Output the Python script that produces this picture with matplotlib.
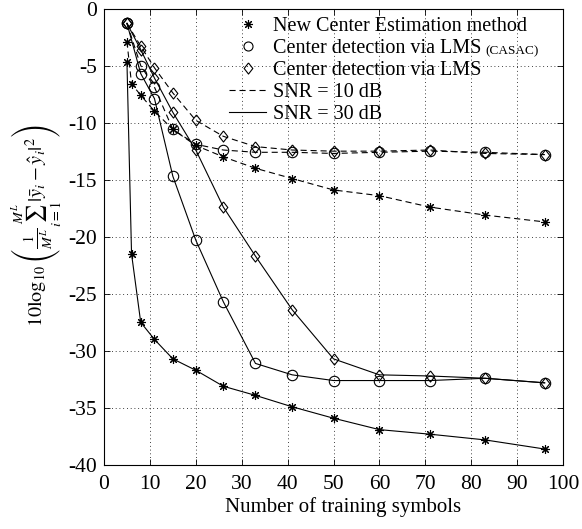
import matplotlib
matplotlib.use("Agg")
import matplotlib.pyplot as plt
from matplotlib.lines import Line2D

plt.rcParams['font.family'] = 'serif'
plt.rcParams['font.serif'] = ['Liberation Serif', 'DejaVu Serif']
plt.rcParams['mathtext.fontset'] = 'stix'

# ---- data ----
x_new = [5, 6, 8, 11, 15, 20, 26, 33, 41, 50, 60, 71, 83, 96]
x_lms = [5, 8, 11, 15, 20, 26, 33, 41, 50, 60, 71, 83, 96]

new_10 = [-2.9, -6.6, -7.6, -9.0, -10.6, -12.0, -13.0, -14.0, -14.9, -15.9, -16.4, -17.4, -18.1, -18.7]
new_30 = [-4.7, -21.5, -27.5, -29.0, -30.7, -31.7, -33.1, -33.9, -34.9, -35.9, -36.9, -37.3, -37.8, -38.6]

casac_10 = [-1.3, -5.0, -6.9, -10.6, -11.9, -12.4, -12.6, -12.6, -12.7, -12.6, -12.5, -12.6, -12.8]
casac_30 = [-1.3, -5.7, -7.9, -14.7, -20.3, -25.7, -31.1, -32.1, -32.6, -32.6, -32.6, -32.4, -32.8]

lms_10 = [-1.3, -3.3, -5.2, -7.4, -9.8, -11.2, -12.1, -12.4, -12.5, -12.5, -12.4, -12.7, -12.8]
lms_30 = [-1.3, -3.6, -6.1, -9.1, -12.4, -17.4, -21.7, -26.4, -30.7, -32.1, -32.2, -32.4, -32.8]

xticks = [0, 10, 20, 30, 40, 50, 60, 70, 80, 90, 100]
yticks = [0, -5, -10, -15, -20, -25, -30, -35, -40]

legend_labels = ["New Center Estimation method",
                 "Center detection via LMS",
                 "Center detection via LMS",
                 "SNR = 10 dB",
                 "SNR = 30 dB"]

# ---- figure ----
W, H = 582, 529
fig = plt.figure(figsize=(W/100, H/100), dpi=100)
ax_l, ax_r, ax_t, ax_b = 104, 563, 8.5, 465
ax = fig.add_axes([ax_l/W, 1-ax_b/H, (ax_r-ax_l)/W, (ax_b-ax_t)/H])

ast = (8, 2, 0)
diamond = [(0, 1), (0.78, 0), (0, -1), (-0.78, 0), (0, 1)]
lw = 0.8
dash = (0, (5.5, 3.5))
common = dict(color='black', lw=lw, mfc='none', mec='black', mew=0.8)

ax.plot(x_new, new_10, linestyle=dash, marker=ast, ms=6.5, **common)
ax.plot(x_new, new_30, linestyle='-', marker=ast, ms=6.5, **common)
ax.plot(x_lms, casac_10, linestyle=dash, marker='o', ms=7.5, **common)
ax.plot(x_lms, casac_30, linestyle='-', marker='o', ms=7.5, **common)
ax.plot(x_lms, lms_10, linestyle=dash, marker=diamond, ms=8, **common)
ax.plot(x_lms, lms_30, linestyle='-', marker=diamond, ms=8, **common)

ax.set_xlim(0, 100)
ax.set_ylim(-40, 0)
ax.set_xticks(xticks)
ax.set_yticks(yticks)
ax.set_xticklabels([str(t) for t in xticks])
ax.set_yticklabels([str(t) for t in yticks])
ax.tick_params(direction='in', top=True, right=True, labelsize=15.5, length=4, width=0.6)
ax.tick_params(axis='x', pad=7)
ax.tick_params(axis='y', pad=5)
ax.grid(True, linestyle=(0, (1, 3.5)), color='black', lw=0.6)
for s in ax.spines.values():
    s.set_linewidth(0.8)

ax.set_xlabel("Number of training symbols", fontsize=15)
ax.xaxis.set_label_coords((343 - ax_l) / (ax_r - ax_l), (ax_b - 497) / (ax_b - ax_t))
ax.set_ylabel(r"$10\log_{10}\left(\frac{1}{M^L}\sum_{i=1}^{M^L}|\bar{y}_i-\hat{y}_i|^2\right)$",
              fontsize=14.5)
ax.yaxis.set_label_coords((64 - ax_l) / (ax_r - ax_l), (ax_b - 226) / (ax_b - ax_t))

handles = [
    Line2D([], [], linestyle='none', marker=ast, ms=6.5, color='black', mew=0.8),
    Line2D([], [], linestyle='none', marker='o', ms=6.5, mfc='none', mec='black', mew=0.8),
    Line2D([], [], linestyle='none', marker=diamond, ms=8, mfc='none', mec='black', mew=0.8),
    Line2D([], [], linestyle=dash, color='black', lw=lw),
    Line2D([], [], linestyle='-', color='black', lw=lw),
]
anchor_x = (229 - ax_l) / (ax_r - ax_l)
anchor_y = (ax_b - 17) / (ax_b - ax_t)
leg = ax.legend(handles, legend_labels, loc='upper left', frameon=False, fontsize=14.5,
                handlelength=1.85, handletextpad=0.35, labelspacing=0.14,
                borderpad=0, borderaxespad=0, bbox_to_anchor=(anchor_x, anchor_y))

fig.canvas.draw()
bb = leg.get_texts()[1].get_window_extent()
fig.text(bb.x1 + 4, bb.y0 + 3.5, "(CASAC)", fontsize=9.5, transform=None,
         ha='left', va='baseline')

fig.savefig("out.png", dpi=100)
